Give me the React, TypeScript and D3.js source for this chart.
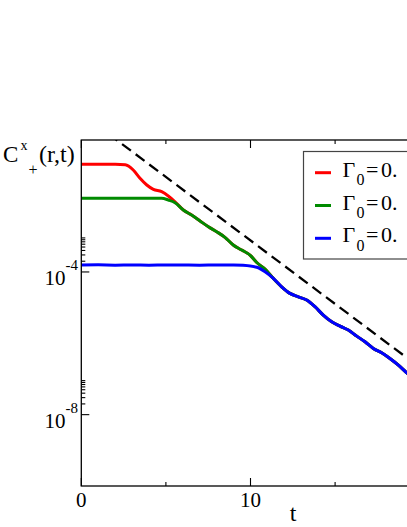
import React, { useEffect, useRef } from 'react';
import * as d3 from 'd3';

// time axis values and correlation values
const redHeadT = [0, 1, 2, 2.6, 3.07, 3.47, 3.87, 4.26, 4.75, 5.14, 5.54];
const redHeadC = [0.104, 0.104, 0.104, 0.101, 0.0721, 0.0423, 0.0274, 0.0207, 0.0178, 0.0135, 0.0093];

const greenHeadT = [0, 1, 2, 3, 4, 4.75, 5.14, 5.54];
const greenHeadC = [0.0116, 0.0116, 0.0116, 0.0116, 0.0116, 0.0116, 0.0104, 0.00873];

// red and green run together here
const midT = [6.03, 6.52, 7.02, 7.51, 8.0, 8.49, 8.98, 9.48, 9.97, 10.37, 10.86];
const midC = [0.00544, 0.00394, 0.00268, 0.00185, 0.00134, 0.000936, 0.000569, 0.000411, 0.000298, 0.000184, 0.00012];

const blueHeadT = [0, 1, 2, 3, 4, 5, 6, 7, 8, 9, 9.56, 10.37, 10.86];
const blueHeadC = [1.56e-4, 1.58e-4, 1.55e-4, 1.57e-4, 1.55e-4, 1.57e-4, 1.56e-4, 1.55e-4, 1.57e-4, 1.56e-4, 1.53e-4, 1.35e-4, 1.013e-4];

// all three curves collapse onto one tail
const tailT = [11.35, 11.84, 12.33, 12.83, 13.32, 13.81, 14.3, 14.8, 15.29, 15.78, 16.28, 16.77, 17.26, 17.75, 18.24, 18.74, 19.23, 20.0];
const tailC = [6.61e-5, 3.84e-5, 2.51e-5, 2.01e-5, 1.63e-5, 1.06e-5, 6.18e-6, 4.01e-6, 3.03e-6, 2.35e-6, 1.59e-6, 1.1e-6, 7.19e-7, 5.42e-7, 3.77e-7, 2.45e-7, 1.49e-7, 8.0e-8];

// dashed reference line
const dashT = [0, 25];
const dashC = [2.77, 3.5e-9];

// legend shows "Γ0 = 0." before the picture edge cuts it
const legendLabels = ['0.', '0.', '0.'];
const seriesColors = ['#ff0000', '#008b00', '#0000ff'];

const xMajorTicks = [0, 10, 20];
const xTickLabels = [0, 10];
const xMinorTicks = [5, 15, 25];
const yMajorTicks = [1e-8, 1e-4];
const yMajorExp = ['-8', '-4'];
const yMinorTicks = [2, 3, 4, 5, 6, 7, 8, 9].flatMap((k) => [k * 1e-8, k * 1e-4]);

const zip = (t: number[], c: number[]) => t.map((v, i) => ({ t: v, c: c[i] }));

function App() {
    const svgRef = useRef<SVGSVGElement>(null);

    useEffect(() => {
        const svg = d3.select(svgRef.current);
        svg.selectAll('*').remove();

        const width = 407;
        const height = 527;
        const left = 81.3, right = 504.3, top = 140, bottom = 486;
        const font = '"Liberation Serif", "Times New Roman", serif';

        const x = d3.scaleLinear().domain([0, 25]).range([left, right]);
        const y = d3.scaleLog().domain([1e-10, 0.5]).range([bottom, top]);

        svg.attr('width', width).attr('height', height);

        svg.append('defs').append('clipPath').attr('id', 'plot-clip')
            .append('rect')
            .attr('x', left).attr('y', top)
            .attr('width', right - left).attr('height', bottom - top);

        const line = d3.line<{ t: number; c: number }>()
            .x((d) => x(d.t))
            .y((d) => y(d.c))
            .curve(d3.curveMonotoneX);

        const series = [
            zip(redHeadT, redHeadC).concat(zip(midT, midC), zip(tailT, tailC)),
            zip(greenHeadT, greenHeadC).concat(zip(midT, midC), zip(tailT, tailC)),
            zip(blueHeadT, blueHeadC).concat(zip(tailT, tailC)),
        ];

        const plot = svg.append('g').attr('clip-path', 'url(#plot-clip)');

        series.forEach((data, i) => {
            plot.append('path')
                .datum(data)
                .attr('fill', 'none')
                .attr('stroke', seriesColors[i])
                .attr('stroke-width', 3)
                .attr('stroke-linejoin', 'round')
                .attr('d', line);
        });

        plot.append('path')
            .datum(zip(dashT, dashC))
            .attr('fill', 'none')
            .attr('stroke', '#000')
            .attr('stroke-width', 2.3)
            .attr('stroke-dasharray', '11,6')
            .attr('d', d3.line<{ t: number; c: number }>().x((d) => x(d.t)).y((d) => y(d.c)));

        // frame
        svg.append('rect')
            .attr('x', left).attr('y', top)
            .attr('width', right - left).attr('height', bottom - top)
            .attr('fill', 'none')
            .attr('stroke', '#000')
            .attr('stroke-width', 1.3);

        // x ticks, bottom and top, pointing inward
        const ticks = svg.append('g').attr('stroke', '#000').attr('stroke-width', 1.1);
        xMajorTicks.forEach((v) => {
            ticks.append('line').attr('x1', x(v)).attr('x2', x(v)).attr('y1', bottom).attr('y2', bottom - 8);
            ticks.append('line').attr('x1', x(v)).attr('x2', x(v)).attr('y1', top).attr('y2', top + 8);
        });
        xMinorTicks.forEach((v) => {
            ticks.append('line').attr('x1', x(v)).attr('x2', x(v)).attr('y1', bottom).attr('y2', bottom - 4);
            ticks.append('line').attr('x1', x(v)).attr('x2', x(v)).attr('y1', top).attr('y2', top + 4);
        });
        yMajorTicks.forEach((v) => {
            ticks.append('line').attr('x1', left).attr('x2', left + 8).attr('y1', y(v)).attr('y2', y(v));
        });
        yMinorTicks.forEach((v) => {
            ticks.append('line').attr('x1', left).attr('x2', left + 4).attr('y1', y(v)).attr('y2', y(v));
        });

        // x tick labels
        xTickLabels.forEach((v) => {
            svg.append('text')
                .attr('x', x(v)).attr('y', 506.5)
                .attr('text-anchor', 'middle')
                .style('font-family', font).style('font-size', '21px')
                .text(v);
        });

        // y tick labels 10^n
        yMajorTicks.forEach((v, i) => {
            const t = svg.append('text')
                .attr('x', 78).attr('y', y(v) + 13)
                .attr('text-anchor', 'end')
                .style('font-family', font).style('font-size', '21px');
            t.append('tspan').text('10');
            t.append('tspan').attr('dy', -15).style('font-size', '15px').text(yMajorExp[i]);
        });

        // axis titles
        svg.append('text')
            .attr('x', 293).attr('y', 521)
            .attr('text-anchor', 'middle')
            .style('font-family', font).style('font-size', '24px')
            .text('t');

        const yl = svg.append('g').style('font-family', font);
        yl.append('text').attr('x', 3).attr('y', 162).style('font-size', '23px').text('C');
        yl.append('text').attr('x', 20.5).attr('y', 149.5).style('font-size', '14px').text('x');
        yl.append('text').attr('x', 28.5).attr('y', 175).style('font-size', '16px').text('+');
        yl.append('text').attr('x', 39).attr('y', 162).style('font-size', '24px').text('(r,t)');

        // legend
        const lg = svg.append('g');
        lg.append('rect')
            .attr('x', 303.5).attr('y', 151.5)
            .attr('width', 190).attr('height', 107.5)
            .attr('fill', '#fff')
            .attr('stroke', '#444')
            .attr('stroke-width', 1.2);

        legendLabels.forEach((lab, i) => {
            const ly = 172.7 + i * 32.8;
            lg.append('line')
                .attr('x1', 315).attr('x2', 331)
                .attr('y1', ly).attr('y2', ly)
                .attr('stroke', seriesColors[i])
                .attr('stroke-width', 3);
            const g = lg.append('g').style('font-family', font);
            g.append('text').attr('x', 342.5).attr('y', ly + 4).style('font-size', '22px').text('Γ');
            g.append('text').attr('x', 356.5).attr('y', ly + 12.5).style('font-size', '16px').text('0');
            g.append('text').attr('x', 366).attr('y', ly + 4).style('font-size', '22px').text('=');
            g.append('text').attr('x', 381).attr('y', ly + 4).style('font-size', '22px').text(lab);
        });
    }, []);

    return (
        <div style={{ position: 'absolute', left: 0, top: 0, width: 407, height: 527, overflow: 'hidden', background: '#fff' }}>
            <svg ref={svgRef} style={{ display: 'block' }}></svg>
        </div>
    );
}

export default App;
